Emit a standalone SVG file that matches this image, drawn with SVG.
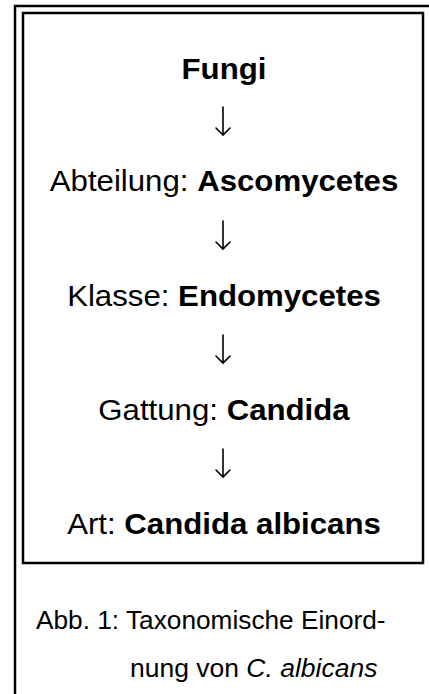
<svg xmlns="http://www.w3.org/2000/svg" width="429" height="694" viewBox="0 0 429 694">
<style>
.t{font-family:"Liberation Sans",Arial,sans-serif;font-size:30px;fill:#000;text-anchor:middle}
.b{font-weight:bold}
.c{font-family:"Liberation Sans",Arial,sans-serif;font-size:25px;fill:#000}
.frame{fill:none;stroke:#000;stroke-width:2.5}
.arr{fill:none;stroke:#000;stroke-width:1.6;stroke-linecap:round;stroke-linejoin:miter}
</style>
<rect width="429" height="694" fill="#fff"/>
<g id="frame">
<path class="frame" d="M15,694 V6 H429"/>
<rect class="frame" x="23" y="13" width="400" height="550"/>
</g>
<g id="nodes" transform="translate(224,0) scale(1.04,1)">
<g id="fungi"><text class="t b" x="0" y="79">Fungi</text></g>
<g id="abteilung"><text class="t" x="0" y="191">Abteilung: <tspan class="b">Ascomycetes</tspan></text></g>
<g id="klasse"><text class="t" x="0" y="306">Klasse: <tspan class="b">Endomycetes</tspan></text></g>
<g id="gattung"><text class="t" x="0" y="420">Gattung: <tspan class="b">Candida</tspan></text></g>
<g id="art"><text class="t" x="0" y="534">Art: <tspan class="b">Candida albicans</tspan></text></g>
</g>
<g id="connectors">
<path class="arr" d="M223,107 V135 M216,128 L223,135 L230,128"/>
<path class="arr" d="M223,221 V249 M216,242 L223,249 L230,242"/>
<path class="arr" d="M223,335 V363 M216,356 L223,363 L230,356"/>
<path class="arr" d="M223,449 V477 M216,470 L223,477 L230,470"/>
</g>
<g id="caption">
<text class="c" transform="translate(36,629) scale(1.05,1)">Abb. 1: Taxonomische Einord-</text>
<text class="c" transform="translate(130,677) scale(1.06,1)">nung von <tspan font-style="italic">C. albicans</tspan></text>
</g>
</svg>
